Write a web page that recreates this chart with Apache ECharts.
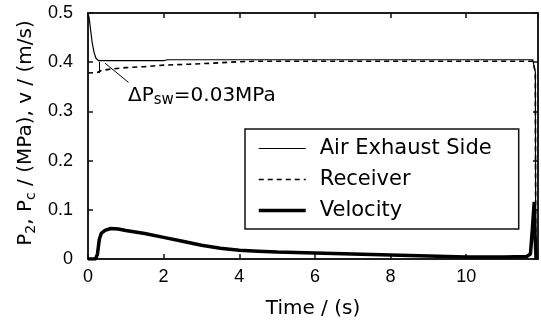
<!DOCTYPE html>
<html><head><meta charset="utf-8">
<script src="https://cdn.jsdelivr.net/npm/echarts@6/dist/echarts.min.js"></script>
<style>html,body{margin:0;padding:0;background:#fff}#c{width:541px;height:324px}</style>
</head><body><div id="c"></div>
<script>
const xTicks = [0, 2, 4, 6, 8, 10];
const yTicks = [0, 0.1, 0.2, 0.3, 0.4, 0.5];
const seriesNames = ['Air Exhaust Side', 'Receiver', 'Velocity'];

const airT = [0, 0.03, 0.07, 0.11, 0.16, 0.21, 0.28, 0.5, 2.0, 2.1, 11.76, 11.8, 11.83, 11.84];
const airP = [0.5, 0.49, 0.465, 0.44, 0.42, 0.408, 0.403, 0.403, 0.403, 0.405, 0.405, 0.402, 0.38, 0.0];

const recT = [0, 0.25, 0.35, 0.6, 1.0, 1.5, 2.0, 2.7, 3.3, 4.0, 4.5, 11.76, 11.8, 11.83, 11.84];
const recP = [0.378, 0.379, 0.383, 0.386, 0.389, 0.391, 0.394, 0.396, 0.398, 0.401, 0.402, 0.402, 0.40, 0.38, 0.0];

const velT = [0, 0.2, 0.25, 0.3, 0.35, 0.45, 0.6, 0.8, 1.0, 1.5, 2.0, 2.5, 3.0, 3.5, 4.0, 4.5, 5.0, 6.0, 7.0, 8.0, 9.0, 10.0, 11.0, 11.6, 11.7, 11.75, 11.8, 11.82, 11.85];
const velV = [0, 0, 0.01, 0.04, 0.052, 0.058, 0.062, 0.061, 0.058, 0.052, 0.044, 0.036, 0.028, 0.022, 0.018, 0.016, 0.014, 0.012, 0.010, 0.008, 0.006, 0.004, 0.004, 0.005, 0.01, 0.06, 0.116, 0.05, 0.0];

const annotPointer = [[0.45, 0.398], [1.07, 0.359]];
const annotBracket = [[0.29, 0.401], [0.29, 0.378]];

const pairs = (t, v) => t.map((x, i) => [x, v[i]]);
const FONT = 'DejaVu Sans';
const TICKFONT = 'Liberation Sans';

const chart = echarts.init(document.getElementById('c'), null, {renderer: 'canvas'});
const axisLineStyle = {color: '#111', width: 1.5};
const tickStyle = {show: true, inside: true, length: 5, lineStyle: {color: '#111', width: 1.5}};
const lineWidths = [1.2, 1.6, 3.5];

chart.setOption({
  animation: false,
  backgroundColor: '#fff',
  grid: {left: 88, right: 3, top: 13, bottom: 65, containLabel: false, outerBoundsMode: 'none',
         show: true, borderColor: '#111', borderWidth: 1.5, backgroundColor: 'transparent'},
  xAxis: [
    {type: 'value', min: 0, max: 11.9, interval: 2, position: 'bottom',
     axisLine: {show: true, onZero: false, lineStyle: axisLineStyle}, axisTick: tickStyle,
     splitLine: {show: false},
     axisLabel: {show: true, showMaxLabel: false, color: '#000', fontFamily: TICKFONT, fontSize: 18, margin: 9,
       formatter: v => xTicks.includes(v) ? String(v) : ''},
     name: 'Time / (s)', nameLocation: 'middle', nameGap: 40,
     nameTextStyle: {color: '#000', fontFamily: FONT, fontSize: 20}},
    {type: 'value', min: 0, max: 11.9, interval: 2, position: 'top', show: true,
     axisLine: {show: true, onZero: false, lineStyle: axisLineStyle}, axisTick: tickStyle,
     splitLine: {show: false}, axisLabel: {show: false}}
  ],
  yAxis: [
    {type: 'value', min: 0, max: 0.5, interval: 0.1, position: 'left',
     axisLine: {show: true, onZero: false, lineStyle: axisLineStyle}, axisTick: tickStyle,
     splitLine: {show: false},
     axisLabel: {color: '#000', fontFamily: TICKFONT, fontSize: 18, margin: 15,
       formatter: v => { const t = yTicks.find(y => Math.abs(y - v) < 1e-9); return t === 0 ? '0' : (t !== undefined ? t.toFixed(1) : ''); }}},
    {type: 'value', min: 0, max: 0.5, interval: 0.1, position: 'right', show: true,
     axisLine: {show: true, onZero: false, lineStyle: axisLineStyle}, axisTick: tickStyle,
     splitLine: {show: false}, axisLabel: {show: false}}
  ],
  legend: {
    show: true, orient: 'vertical', left: 245, top: 129,
    data: seriesNames.map((n, i) => ({name: n, lineStyle: {width: lineWidths[i]}})),
    backgroundColor: '#fff', borderColor: '#111', borderWidth: 1.5, borderRadius: 0,
    padding: [9, 27, 8, 12], itemWidth: 47, itemHeight: 14, itemGap: 10,
    itemStyle: {opacity: 0},
    textStyle: {color: '#000', fontFamily: FONT, fontSize: 21, padding: [0, 0, 0, 9]}
  },
  series: [
    {name: seriesNames[0], type: 'line', data: pairs(airT, airP), symbol: 'none', symbolSize: 0, showSymbol: false,
     lineStyle: {color: '#000', width: lineWidths[0]}, itemStyle: {color: '#000'}, z: 3,
     markLine: {silent: true, symbol: 'none', label: {show: false},
       lineStyle: {color: '#000', width: 1, type: 'solid'},
       data: [
         [{coord: annotPointer[0]}, {coord: annotPointer[1]}],
         [{coord: annotBracket[0]}, {coord: annotBracket[1]}]
       ]}},
    {name: seriesNames[1], type: 'line', data: pairs(recT, recP), symbol: 'none', symbolSize: 0, showSymbol: false,
     lineStyle: {color: '#000', width: lineWidths[1], type: [5, 4]}, itemStyle: {color: '#000'}, z: 3},
    {name: seriesNames[2], type: 'line', data: pairs(velT, velV), symbol: 'none', symbolSize: 0, showSymbol: false,
     lineStyle: {color: '#000', width: lineWidths[2]}, itemStyle: {color: '#000'}, z: 4}
  ],
  graphic: [
    {type: 'text', x: 27, y: 133, rotation: Math.PI / 2,
     style: {text: '{n|P}{s|2}{n|, P}{s|c}{n| / (MPa), v / (m/s)}',
       align: 'center', verticalAlign: 'middle', fill: '#000', font: '20px ' + FONT,
       rich: {n: {fontSize: 20, fontFamily: FONT, verticalAlign: 'top', lineHeight: 22, fill: '#000'},
              s: {fontSize: 14, fontFamily: FONT, verticalAlign: 'bottom', lineHeight: 14, padding: [14, 0, 0, 0], fill: '#000'}}}},
    {type: 'text', x: 128, y: 86,
     style: {text: '{n|\u0394P}{s|sw}{n|=0.03MPa}', fill: '#000', font: '20px ' + FONT,
       rich: {n: {fontSize: 20, fontFamily: FONT, verticalAlign: 'top', lineHeight: 22, fill: '#000'},
              s: {fontSize: 15, fontFamily: FONT, verticalAlign: 'bottom', lineHeight: 15, padding: [12, 0, 0, 0], fill: '#000'}}}}
  ]
});
</script></body></html>
